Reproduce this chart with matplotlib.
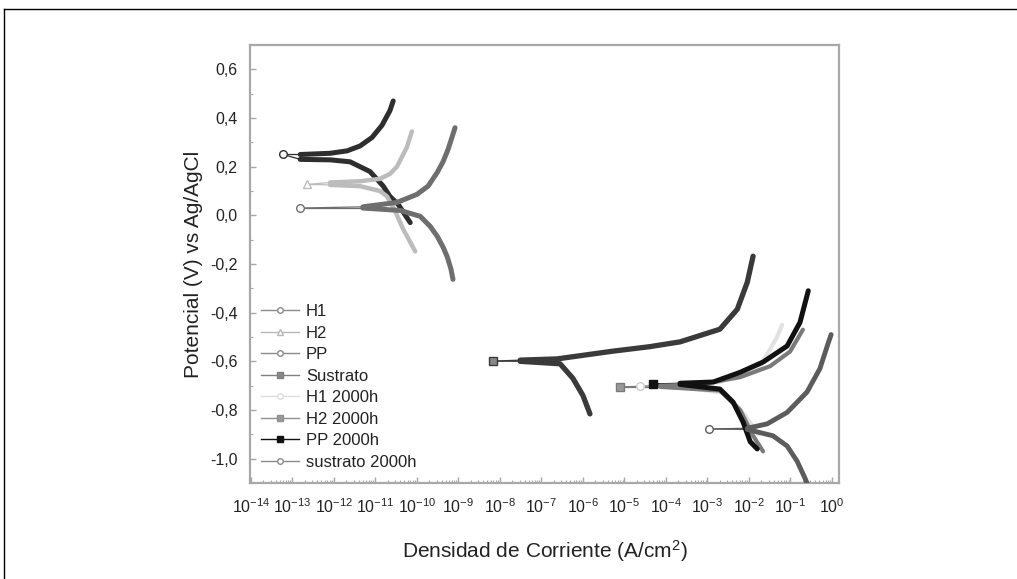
import numpy as np
import matplotlib
matplotlib.use("Agg")
import matplotlib.pyplot as plt
from matplotlib.lines import Line2D
from matplotlib.ticker import LogLocator, MultipleLocator, FuncFormatter, NullFormatter

plt.rcParams['font.family'] = ['Liberation Sans', 'DejaVu Sans']
plt.rcParams['mathtext.fontset'] = 'custom'
plt.rcParams['mathtext.rm'] = 'Liberation Sans'
plt.rcParams['mathtext.it'] = 'Liberation Sans'
plt.rcParams['mathtext.bf'] = 'Liberation Sans:bold'
plt.rcParams['axes.unicode_minus'] = False

# ---- data: log10 of current density (A/cm2) and potential (V vs Ag/AgCl) ----
series_names = ["H1", "H2", "PP", "Sustrato", "H1 2000h", "H2 2000h", "PP 2000h", "sustrato 2000h"]

# H1
h1_min_logi, h1_ecorr = -13.22, 0.25
h1_anod_logi = [-12.81, -12.09, -11.68, -11.37, -11.08, -10.84, -10.65, -10.57]
h1_anod_e = [0.25, 0.255, 0.265, 0.285, 0.32, 0.37, 0.43, 0.47]
h1_cath_logi = [-12.81, -12.09, -11.61, -11.13, -10.81, -10.65, -10.45, -10.16]
h1_cath_e = [0.23, 0.228, 0.22, 0.18, 0.12, 0.078, 0.045, -0.03]

# H2
h2_min_logi, h2_ecorr = -12.65, 0.127
h2_anod_logi = [-12.09, -11.37, -10.89, -10.65, -10.48, -10.36, -10.24, -10.12]
h2_anod_e = [0.135, 0.14, 0.15, 0.17, 0.2, 0.24, 0.28, 0.345]
h2_cath_logi = [-12.09, -11.37, -10.89, -10.72, -10.53, -10.33, -10.16, -10.04]
h2_cath_e = [0.125, 0.12, 0.1, 0.078, 0.02, -0.057, -0.11, -0.148]

# PP
pp_min_logi, pp_ecorr = -12.81, 0.03
pp_anod_logi = [-11.30, -10.48, -10.0, -9.73, -9.51, -9.37, -9.25, -9.08]
pp_anod_e = [0.035, 0.053, 0.086, 0.12, 0.176, 0.22, 0.27, 0.36]
pp_cath_logi = [-11.30, -10.4, -9.92, -9.68, -9.51, -9.37, -9.27, -9.18, -9.13]
pp_cath_e = [0.03, 0.02, -0.004, -0.045, -0.086, -0.13, -0.17, -0.22, -0.263]

# Sustrato
su_min_logi, su_ecorr = -8.16, -0.599
su_anod_logi = [-7.51, -6.62, -5.27, -4.4, -3.66, -2.70, -2.28, -2.04, -1.90]
su_anod_e = [-0.595, -0.59, -0.558, -0.54, -0.52, -0.468, -0.386, -0.275, -0.168]
su_cath_logi = [-7.51, -6.55, -6.24, -6.0, -5.83]
su_cath_e = [-0.6, -0.61, -0.67, -0.74, -0.816]

# H1 2000h
h1a_min_logi, h1a_ecorr = -4.62, -0.70
h1a_anod_logi = [-3.66, -2.70, -1.73, -1.32, -1.20]
h1a_anod_e = [-0.70, -0.685, -0.62, -0.50, -0.45]
h1a_cath_logi = [-3.66, -2.58, -2.10, -1.78]
h1a_cath_e = [-0.705, -0.73, -0.82, -0.9]

# H2 2000h
h2a_min_logi, h2a_ecorr = -5.10, -0.705
h2a_anod_logi = [-4.14, -3.18, -2.21, -1.49, -1.01, -0.70]
h2a_anod_e = [-0.70, -0.695, -0.665, -0.62, -0.56, -0.47]
h2a_cath_logi = [-4.14, -2.70, -2.21, -1.92, -1.66]
h2a_cath_e = [-0.705, -0.72, -0.8, -0.9, -0.97]

# PP 2000h
ppa_min_logi, ppa_ecorr = -4.30, -0.693
ppa_anod_logi = [-3.66, -2.86, -2.21, -1.66, -1.08, -0.77, -0.57]
ppa_anod_e = [-0.69, -0.685, -0.645, -0.603, -0.537, -0.44, -0.31]
ppa_cath_logi = [-3.66, -2.70, -2.38, -2.14, -1.97, -1.80]
ppa_cath_e = [-0.695, -0.714, -0.768, -0.85, -0.93, -0.96]

# sustrato 2000h
sua_min_logi, sua_ecorr = -2.97, -0.878
sua_anod_logi = [-2.04, -1.56, -1.08, -0.60, -0.29, -0.10, -0.02]
sua_anod_e = [-0.875, -0.857, -0.81, -0.726, -0.63, -0.53, -0.49]
sua_cath_logi = [-2.04, -1.42, -1.08, -0.84, -0.65, -0.53]
sua_cath_e = [-0.88, -0.906, -0.948, -1.01, -1.08, -1.13]

x_tick_exponents = list(range(-14, 1))
y_ticks = [-1.0, -0.8, -0.6, -0.4, -0.2, 0.0, 0.2, 0.4, 0.6]

series = [
    (h1_min_logi, h1_ecorr, h1_anod_logi, h1_anod_e, h1_cath_logi, h1_cath_e),
    (h2_min_logi, h2_ecorr, h2_anod_logi, h2_anod_e, h2_cath_logi, h2_cath_e),
    (pp_min_logi, pp_ecorr, pp_anod_logi, pp_anod_e, pp_cath_logi, pp_cath_e),
    (su_min_logi, su_ecorr, su_anod_logi, su_anod_e, su_cath_logi, su_cath_e),
    (h1a_min_logi, h1a_ecorr, h1a_anod_logi, h1a_anod_e, h1a_cath_logi, h1a_cath_e),
    (h2a_min_logi, h2a_ecorr, h2a_anod_logi, h2a_anod_e, h2a_cath_logi, h2a_cath_e),
    (ppa_min_logi, ppa_ecorr, ppa_anod_logi, ppa_anod_e, ppa_cath_logi, ppa_cath_e),
    (sua_min_logi, sua_ecorr, sua_anod_logi, sua_anod_e, sua_cath_logi, sua_cath_e),
]

# ---- styles ----
colors = ["#2e2e2e", "#bcbcbc", "#6e6e6e", "#3a3a3a", "#e2e2e2", "#7a7a7a", "#111111", "#5c5c5c"]
thick = [3.6, 3.2, 3.6, 3.8, 3.0, 3.0, 3.6, 3.5]
markers = ["o", "^", "o", "s", "o", "s", "s", "o"]
mfaces = ["white", "white", "white", "#888888", "white", "#999999", "#111111", "white"]
legend_colors = ["#8a8a8a", "#b8b8b8", "#8a8a8a", "#808080", "#dddddd", "#909090", "#111111", "#8a8a8a"]

fig = plt.figure(figsize=(10.17, 5.79), dpi=100)
ax = fig.add_axes([250 / 1017, 1 - 483 / 579, 589 / 1017, 438 / 579])

for (mn, ec, al, ae, cl, ce), col, lw, mk, mf in zip(series, colors, thick, markers, mfaces):
    al = 10 ** np.array(al); cl = 10 ** np.array(cl)
    mnv = 10 ** mn
    # thin spike toward the minimum current at Ecorr
    ax.plot([mnv, al[0]], [ec, ae[0]], color=col, lw=0.9, zorder=2)
    ax.plot([mnv, cl[0]], [ec, ce[0]], color=col, lw=0.9, zorder=2)
    ax.plot(al, ae, color=col, lw=lw, solid_capstyle='round', solid_joinstyle='round', zorder=3)
    ax.plot(cl, ce, color=col, lw=lw, solid_capstyle='round', solid_joinstyle='round', zorder=3)
    ax.plot([mnv], [ec], marker=mk, ms=5.5, mfc=mf, mec=col if col != "#e2e2e2" else "#cccccc",
            mew=1.0, ls='none', zorder=4)

ax.set_xscale('log')
ax.set_xlim(10 ** -14.02, 10 ** 0.17)
ax.set_ylim(-1.1, 0.7)

ax.set_xticks([10.0 ** e for e in x_tick_exponents])
ax.set_xticklabels([r"$10^{%d}$" % e for e in x_tick_exponents])
ax.xaxis.set_minor_locator(LogLocator(base=10, subs=np.arange(2, 10), numticks=200))
ax.xaxis.set_minor_formatter(NullFormatter())
ax.set_yticks(y_ticks)
ax.yaxis.set_major_formatter(FuncFormatter(lambda v, p: ("%.1f" % v).replace(".", ",").replace("-0,0", "0,0")))
ax.yaxis.set_minor_locator(MultipleLocator(0.1))

spine_col = "#a8a8a8"
for s in ax.spines.values():
    s.set_color(spine_col)
    s.set_linewidth(1.6)
ax.tick_params(axis='both', which='both', direction='in', color=spine_col, top=False, right=False)
ax.tick_params(axis='both', which='major', length=4, width=1.0, labelsize=11.5, labelcolor="#222222")
ax.tick_params(axis='both', which='minor', length=2.5, width=0.8)
ax.tick_params(axis='x', which='major', pad=10)
ax.tick_params(axis='y', which='major', pad=9)

ax.set_xlabel(r"Densidad de Corriente (A/cm$^{2}$)", fontsize=15, color="#222222", labelpad=16)
ax.set_ylabel("Potencial (V) vs Ag/AgCl", fontsize=15, color="#222222", labelpad=5)

handles = [Line2D([0], [0], color=c, lw=1.0, marker=m, ms=4, mfc=mf, mec=c)
           for c, m, mf in zip(legend_colors, markers, mfaces)]
leg = ax.legend(handles, series_names, loc='upper left', bbox_to_anchor=(261 / 1017, 1 - 304 / 579),
                bbox_transform=fig.transFigure, frameon=False, fontsize=12, labelspacing=0.39,
                handlelength=2.3, handletextpad=0.4, borderpad=0, borderaxespad=0)
for t in leg.get_texts():
    t.set_color("#222222")

# page frame lines
fig.add_artist(Line2D([4 / 1017, 1], [1 - 9 / 579, 1 - 9 / 579], color="black", lw=1.0, transform=fig.transFigure))
fig.add_artist(Line2D([4 / 1017, 4 / 1017], [0, 1 - 9 / 579], color="black", lw=1.0, transform=fig.transFigure))

fig.savefig("out.png", dpi=100)
